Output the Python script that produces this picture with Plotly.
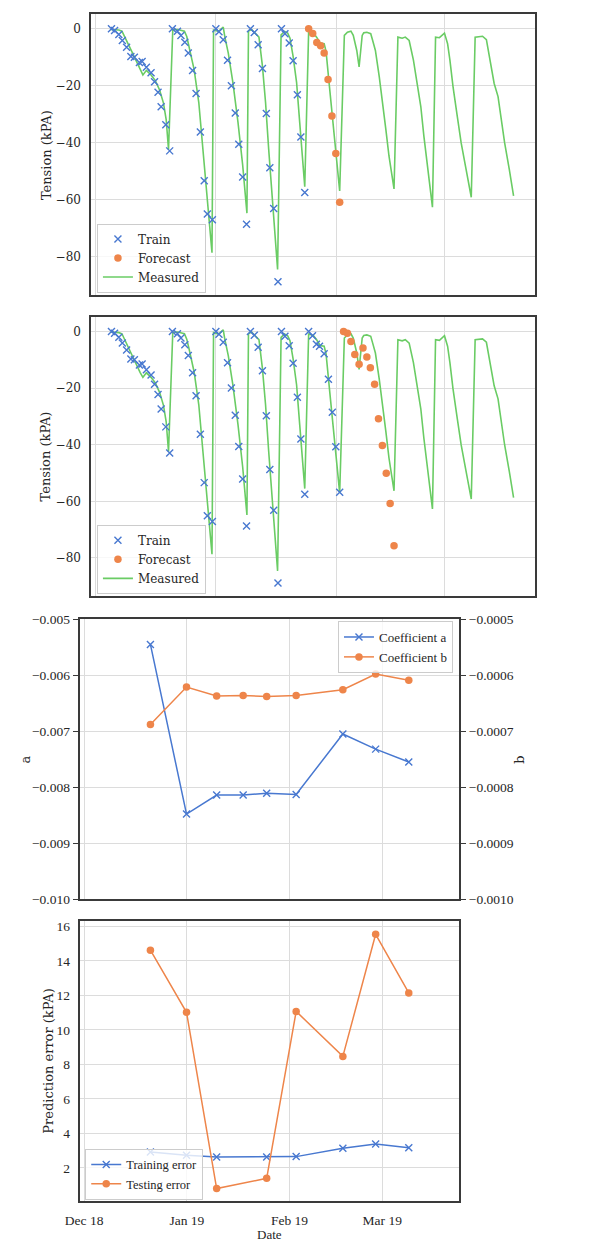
import pandas as pd
import plotly.graph_objects as go

W, H = 611, 1248
START = pd.Timestamp("2018-12-01")

# ---------------- data (days since 2018-12-01) ----------------
measured_day = [
    3.9, 5.0, 6.0, 6.8, 7.5, 8.5, 9.6, 10.6, 11.5, 12.2, 13.1, 14.3, 15.4, 16.5, 17.5, 18.2, 18.8,
    19.9, 21.2, 22.9, 23.5, 24.1, 25.4, 26.6, 27.5, 28.5, 29.1, 30.0,
    30.4, 31.7, 32.9, 33.3, 34.2, 35.4, 36.7, 37.9, 39.0,
    39.4, 40.2, 41.3, 42.1, 43.0, 43.8, 44.6, 45.5, 46.3, 46.9,
    47.8, 48.7, 49.5, 50.1, 50.9, 51.8, 52.6, 53.3, 53.9,
    54.9, 56.1, 57.0, 57.9, 58.9, 59.4, 60.1, 61.0, 62.0, 62.9,
    64.1, 64.9, 65.8, 66.4, 67.3, 67.9, 68.7, 69.1, 69.9, 70.9, 71.4, 72.1, 73.1, 74.0, 74.8, 75.6, 76.9,
    77.9, 79.0, 79.8, 80.8, 81.9, 82.9, 83.8, 84.6, 85.4, 86.1, 86.8,
    87.6, 88.6, 89.9, 90.7, 91.3, 92.1, 93.2, 94.2, 95.3, 96.8,
    97.8, 99.1, 99.7, 100.7, 101.6, 102.7, 103.7, 104.5, 105.4, 106.6, 107.7]
measured_kpa = [
    -0.2, -0.3, -0.4, -0.8, -2.9, -5.8, -8.7, -11.6, -14.5, -16.2, -14.6, -16.2, -18.2, -21.5, -26.1, -31.9, -42.4,
    -0.3, -0.2, -0.8, -2.7, -6.2, -14.3, -25.9, -39.9, -56.1, -65.4, -78.7,
    -0.4, -0.9, 0.6, -2.7, -8.5, -19.0, -32.9, -47.8, -64.8,
    -0.8, -0.2, -1.6, -2.9, -13.1, -25.9, -42.2, -58.4, -71.2, -84.6,
    -2.1, -0.9, -1.5, -3.3, -9.7, -18.9, -32.9, -44.5, -55.5,
    -0.9, -1.4, -3.0, -5.0, -5.2, -8.0, -18.0, -30.5, -44.0, -57.0,
    -2.3, -1.2, -0.8, -2.3, -7.6, -13.4, -2.3, -1.4, -1.2, -1.7, -4.1, -7.6, -16.9, -26.1, -35.4, -44.7, -56.3,
    -2.9, -3.3, -2.9, -4.1, -11.0, -19.2, -27.3, -37.8, -47.0, -55.2, -62.7,
    -2.9, -3.1, -1.5, -5.2, -11.0, -20.3, -30.8, -40.1, -48.2, -59.2,
    -2.9, -2.7, -2.6, -3.8, -11.0, -19.2, -23.8, -31.9, -40.1, -49.4, -58.7]

train_day = [
    4.1, 4.9, 6.0, 6.9, 8.0, 9.1, 10.0, 11.3, 12.0, 13.1, 14.3, 15.2, 16.1, 16.9, 18.1, 19.1,
    19.8, 21.1, 22.0, 23.0, 23.9, 25.0, 25.9, 27.0, 28.0, 28.8, 30.1,
    31.0, 31.8, 32.9, 34.0, 35.0, 36.0, 36.9, 37.9, 38.9,
    39.9, 40.9, 41.9, 43.0, 44.0, 44.9, 45.9, 47.0,
    47.9, 48.8, 49.9, 50.9, 52.0, 52.9, 53.9]
train_kpa = [
    0.0, -0.6, -2.0, -4.1, -6.5, -9.7, -10.0, -11.8, -11.5, -13.5, -15.4, -18.6, -22.3, -27.4, -33.7, -42.9,
    0.0, -0.8, -2.3, -4.7, -8.5, -14.6, -22.7, -36.3, -53.4, -65.1, -67.1,
    0.0, -1.0, -3.8, -11.0, -20.0, -29.6, -40.6, -52.1, -68.7,
    0.0, -1.3, -5.6, -13.9, -29.8, -48.8, -63.2, -88.9,
    0.0, -1.7, -5.0, -11.2, -23.2, -38.0, -57.5]

train6_day = [54.9, 55.9, 56.9, 57.7, 58.9, 60.0, 61.0, 61.9, 62.9]
train6_kpa = [0.0, -1.5, -4.5, -5.2, -7.9, -16.9, -28.5, -40.7, -56.8]

forecast1_day = [54.9, 55.95, 57.0, 58.0, 58.9, 59.9, 60.9, 61.9, 62.9]
forecast1_kpa = [0.0, -1.6, -4.8, -5.9, -8.5, -17.8, -30.6, -43.8, -61.0]

forecast2_day = [63.9, 64.9, 65.8, 66.8, 67.9, 68.9, 69.9, 70.8, 71.9, 72.9, 73.9, 74.9, 75.9, 76.9]
forecast2_kpa = [0.0, -0.6, -3.5, -8.1, -11.6, -5.8, -9.0, -12.8, -18.6, -30.8, -40.3, -50.1, -60.8, -75.7]

coef_day = [20.0, 30.9, 40.0, 48.0, 55.1, 64.0, 78.1, 88.0, 98.0]
coef_a = [-0.00545, -0.00848, -0.00814, -0.00814, -0.00811, -0.00813, -0.00705, -0.00732, -0.00755]
coef_b = [-0.000688, -0.000621, -0.000637, -0.000636, -0.000638, -0.000636, -0.000626, -0.000598, -0.000609]

err_day = [20.0, 30.9, 40.0, 55.1, 64.0, 78.1, 88.0, 98.0]
train_err = [2.92, 2.73, 2.63, 2.63, 2.65, 3.13, 3.38, 3.17]
test_err = [14.62, 11.02, 0.80, 1.39, 11.07, 8.46, 15.54, 12.14]

y_ticks_tension = [-80, -60, -40, -20, 0]
y_ticks_a = [-0.010, -0.009, -0.008, -0.007, -0.006, -0.005]
y_ticks_b = [-0.0010, -0.0009, -0.0008, -0.0007, -0.0006, -0.0005]
y_ticks_err = [2, 4, 6, 8, 10, 12, 14, 16]


def dates(days):
    return [START + pd.Timedelta(days=d) for d in days]


BLUE, ORANGE, GREEN = "#4878d0", "#ee854a", "#6acc64"
GRID, SPINE, TXT = "#dcdcdc", "#3a3a3a", "#262626"
SERIF, NARROW = "DejaVu Serif", "Liberation Serif"
X_RANGE = [(START + pd.Timedelta(days=-1.15)).strftime("%Y-%m-%d %H:%M"),
           (START + pd.Timedelta(days=113.2)).strftime("%Y-%m-%d %H:%M")]


def xdom(l, r):
    return [l / W, r / W]


def ydom(top, bottom):
    return [1 - bottom / H, 1 - top / H]


fig = go.Figure()

x_marker = dict(symbol="x-thin", size=7, color=BLUE, line=dict(color=BLUE, width=1.4))
o_marker = dict(symbol="circle", size=7.5, color=ORANGE)

# panels 1 and 2
for i, (tr_d, tr_v, fc_d, fc_v) in enumerate([
        (train_day, train_kpa, forecast1_day, forecast1_kpa),
        (train_day + train6_day, train_kpa + train6_kpa, forecast2_day, forecast2_kpa)]):
    xa = "x" if i == 0 else "x2"
    ya = "y" if i == 0 else "y2"
    lg = "legend" if i == 0 else "legend2"
    fig.add_trace(go.Scatter(x=dates(measured_day), y=measured_kpa, mode="lines",
                             line=dict(color=GREEN, width=1.6), name="Measured",
                             xaxis=xa, yaxis=ya, legend=lg, legendrank=3))
    fig.add_trace(go.Scatter(x=dates(tr_d), y=tr_v, mode="markers", marker=x_marker,
                             name="Train", xaxis=xa, yaxis=ya, legend=lg, legendrank=1))
    fig.add_trace(go.Scatter(x=dates(fc_d), y=fc_v, mode="markers", marker=o_marker,
                             name="Forecast", xaxis=xa, yaxis=ya, legend=lg, legendrank=2))

# panel 3
fig.add_trace(go.Scatter(x=dates(coef_day), y=coef_a, mode="lines+markers",
                         line=dict(color=BLUE, width=1.5), marker=x_marker,
                         name="Coefficient a", xaxis="x3", yaxis="y3", legend="legend3"))
fig.add_trace(go.Scatter(x=dates(coef_day), y=coef_b, mode="lines+markers",
                         line=dict(color=ORANGE, width=1.5), marker=o_marker,
                         name="Coefficient b", xaxis="x3", yaxis="y5", legend="legend3"))

# panel 4
fig.add_trace(go.Scatter(x=dates(err_day), y=train_err, mode="lines+markers",
                         line=dict(color=BLUE, width=1.5), marker=x_marker,
                         name="Training error", xaxis="x4", yaxis="y4", legend="legend4"))
fig.add_trace(go.Scatter(x=dates(err_day), y=test_err, mode="lines+markers",
                         line=dict(color=ORANGE, width=1.5), marker=o_marker,
                         name="Testing error", xaxis="x4", yaxis="y4", legend="legend4"))


def xaxis(domain, anchor, labels, font):
    return dict(domain=domain, anchor=anchor, type="date", range=X_RANGE, autorange=False,
                tick0="2018-12-01", dtick="M1", tickformat="%b %y",
                showticklabels=labels, showgrid=True, gridcolor=GRID, gridwidth=1,
                zeroline=False, showline=True, linecolor=SPINE, linewidth=1.5, mirror=True,
                ticks="outside", ticklen=6, tickcolor="rgba(0,0,0,0)", tickfont=font)


def yaxis(domain, anchor, rng, tickvals, font, fmt=None, tickcolor="rgba(0,0,0,0)"):
    d = dict(domain=domain, anchor=anchor, range=rng, autorange=False, tickvals=tickvals,
             showgrid=True, gridcolor=GRID, gridwidth=1, zeroline=False,
             showline=True, linecolor=SPINE, linewidth=1.5, mirror=True,
             ticks="outside", ticklen=6, tickcolor=tickcolor, tickwidth=1.2, tickfont=font)
    if fmt:
        d["tickformat"] = fmt
    return d


f_top = dict(family=SERIF, size=12, color=TXT)
f_bot = dict(family=NARROW, size=13.5, color=TXT)
f_leg3 = dict(family=NARROW, size=13, color=TXT)
f_leg4 = dict(family=NARROW, size=12.5, color=TXT)

leg_common = dict(bgcolor="rgba(255,255,255,0.8)", bordercolor="#cccccc", borderwidth=1,
                  traceorder="normal", itemwidth=30, tracegroupgap=0)

fig.update_layout(
    width=W, height=H, margin=dict(l=0, r=0, t=0, b=0), autosize=False,
    plot_bgcolor="white", paper_bgcolor="white", showlegend=True,
    xaxis=xaxis(xdom(78, 533), "y", False, f_top),
    yaxis=yaxis(ydom(7.3, 291), "x", [-93.4, 5.15], y_ticks_tension, f_top),
    xaxis2=xaxis(xdom(78, 533), "y2", False, f_top),
    yaxis2=yaxis(ydom(313.7, 596), "x2", [-93.4, 5.15], y_ticks_tension, f_top),
    xaxis3=xaxis(xdom(67, 455.3), "y3", False, f_bot),
    yaxis3=yaxis(ydom(619.7, 903), "x3", [-0.010, -0.005], y_ticks_a, f_bot, ".3f", SPINE),
    yaxis5=dict(overlaying="y3", anchor="x3", side="right", range=[-0.0010, -0.0005],
                autorange=False, tickvals=y_ticks_b, tickformat=".4f", showgrid=False,
                zeroline=False, showline=False, ticks="outside", ticklen=6, tickcolor=SPINE,
                tickwidth=1.2, tickfont=f_bot),
    xaxis4=xaxis(xdom(67, 455.3), "y4", True, f_bot),
    yaxis4=yaxis(ydom(925.3, 1209), "x4", [0.05, 16.3], y_ticks_err, f_bot),
    legend=dict(x=84 / W, y=1 - 289 / H, xanchor="left", yanchor="bottom", font=f_top, **leg_common),
    legend2=dict(x=84 / W, y=1 - 594 / H, xanchor="left", yanchor="bottom", font=f_top, **leg_common),
    legend3=dict(x=449 / W, y=1 - 621.5 / H, xanchor="right", yanchor="top", font=f_leg3, **leg_common),
    legend4=dict(x=72 / W, y=1 - 1207.5 / H, xanchor="left", yanchor="bottom", font=f_leg4, **leg_common),
)

titles = [
    ("Tension (kPA)", 31.7, 150, -90, SERIF, 13),
    ("Tension (kPA)", 31.7, 455, -90, SERIF, 13),
    ("a", 11, 762, -90, SERIF, 13),
    ("b", 517.7, 762, -90, SERIF, 13),
    ("Prediction error (kPA)", 34.3, 1067, -90, SERIF, 13),
    ("Date", 261, 1242.5, 0, NARROW, 13),
]
for text, px, py, ang, fam, sz in titles:
    fig.add_annotation(text=text, x=px / W, y=1 - py / H, xref="paper", yref="paper",
                       showarrow=False, textangle=ang, xanchor="center", yanchor="middle",
                       borderpad=0, font=dict(family=fam, size=sz, color=TXT))

fig.write_html("out.html", config={"displayModeBar": False},
               post_script="document.body.style.margin='0';document.body.style.overflow='hidden';")
